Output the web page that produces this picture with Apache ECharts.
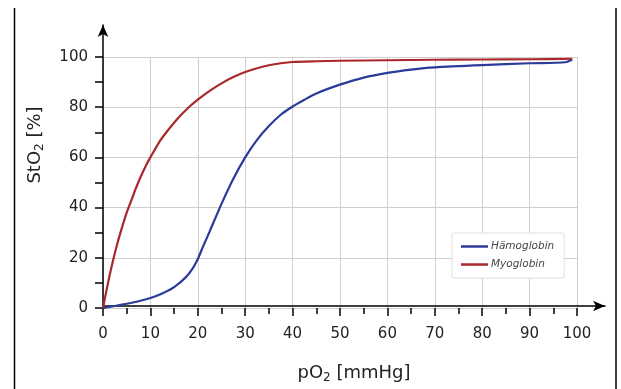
<!DOCTYPE html>
<html>
<head>
<meta charset="utf-8">
<script src="https://cdn.jsdelivr.net/npm/echarts@6/dist/echarts.min.js"></script>
<style>
html,body{margin:0;padding:0;background:#fff;}
#c{width:621px;height:389px;}
</style>
</head>
<body>
<div id="c"></div>
<script>
// Data
var xTicks = [0, 10, 20, 30, 40, 50, 60, 70, 80, 90, 100];
var yTicks = [0, 20, 40, 60, 80, 100];

var hbX = [0, 2.5, 5, 7.5, 10, 12.5, 15, 17.5, 19, 20, 21, 22.5, 25, 27.5, 30, 32.5, 35, 37.5, 40, 42.5, 45, 50, 55, 60, 65, 70, 80, 90, 97.5, 99];
var hbY = [0, 0.8, 1.7, 2.7, 4, 5.8, 8.3, 12.3, 16, 19.5, 24, 30.5, 41.5, 51.5, 60, 67, 72.5, 77, 80.3, 83, 85.5, 89, 91.8, 93.7, 95, 95.9, 96.8, 97.5, 97.9, 99];

var mbX = [0, 1, 2, 3, 4, 5, 6, 7, 8, 9, 10, 12, 14, 16, 18, 20, 22.5, 25, 27.5, 30, 32.5, 35, 37.5, 40, 45, 50, 60, 70, 80, 90, 99];
var mbY = [0, 9.5, 18, 25.5, 32, 38, 43, 48, 52.5, 56.5, 60, 66.5, 71.5, 76, 79.8, 83, 86.5, 89.5, 92, 94, 95.5, 96.7, 97.5, 98, 98.3, 98.5, 98.7, 98.9, 99, 99.1, 99.3];

var seriesNames = ['Hämoglobin', 'Myoglobin'];

function pairs(xs, ys) { return xs.map(function (x, i) { return [x, ys[i]]; }); }

var FONT = 'DejaVu Sans';
var chart = echarts.init(document.getElementById('c'), null, {renderer: 'canvas'});
chart.setOption({
  backgroundColor: '#fff',
  animation: false,
  textStyle: {fontFamily: FONT},
  grid: [
    {left: 103, right: 44, top: 57, bottom: 81, containLabel: false},
    {left: 103, right: 16, top: 25, bottom: 81, containLabel: false}
  ],
  legend: {
    data: seriesNames,
    orient: 'vertical',
    left: 452, top: 233,
    padding: [8, 10, 8, 9],
    itemWidth: 27, itemHeight: 2.5, itemGap: 7,
    icon: 'rect',
    backgroundColor: '#fff',
    borderColor: '#e0e0e0', borderWidth: 1, borderRadius: 2,
    textStyle: {fontFamily: FONT, fontStyle: 'italic', fontSize: 10.5, color: '#444', padding: [0, 0, 0, -2]}
  },
  xAxis: [
    {
      type: 'value', gridIndex: 0, min: xTicks[0], max: xTicks[xTicks.length - 1], interval: 10,
      axisLine: {show: false},
      axisTick: {show: true, length: 8, lineStyle: {color: '#000', width: 1.5}},
      minorTick: {show: true, splitNumber: 2, length: 6, lineStyle: {color: '#000', width: 1.5}},
      axisLabel: {color: '#222', fontSize: 15, margin: 19, fontFamily: FONT},
      splitLine: {show: true, lineStyle: {color: '#cfcfcf', width: 1}}
    },
    {
      type: 'value', gridIndex: 1, min: 0, max: 100,
      axisLine: {show: true, symbol: ['none', 'arrow'], symbolSize: [8, 12], lineStyle: {color: '#000', width: 1.5}},
      axisTick: {show: false}, axisLabel: {show: false}, splitLine: {show: false},
      name: 'pO{sub|2} [mmHg]', nameLocation: 'middle', nameGap: 57,
      nameTextStyle: {fontFamily: FONT, fontSize: 18, color: '#222',
        rich: {sub: {fontSize: 12, verticalAlign: 'bottom', padding: [9, 0, 0, 0], fontFamily: FONT, color: '#222'}}}
    }
  ],
  yAxis: [
    {
      type: 'value', gridIndex: 0, min: yTicks[0], max: yTicks[yTicks.length - 1], interval: 20,
      axisLine: {show: false},
      axisTick: {show: true, length: 8, lineStyle: {color: '#000', width: 1.5}},
      minorTick: {show: true, splitNumber: 2, length: 8, lineStyle: {color: '#000', width: 1.5}},
      axisLabel: {color: '#222', fontSize: 15, margin: 15, fontFamily: FONT},
      splitLine: {show: true, lineStyle: {color: '#cfcfcf', width: 1}}
    },
    {
      type: 'value', gridIndex: 1, min: 0, max: 100,
      axisLine: {show: true, symbol: ['none', 'arrow'], symbolSize: [8, 12], lineStyle: {color: '#000', width: 1.5}},
      axisTick: {show: false}, axisLabel: {show: false}, splitLine: {show: false}
    }
  ],
  graphic: [
    {type: 'line', shape: {x1: 14.5, y1: 8, x2: 14.5, y2: 389}, style: {stroke: '#000', lineWidth: 1.5}},
    {type: 'line', shape: {x1: 616, y1: 8, x2: 616, y2: 389}, style: {stroke: '#000', lineWidth: 1.5}},
    {type: 'text', x: 35, y: 145, rotation: Math.PI / 2,
      style: {text: 'StO{sub|2} [%]', fill: '#222', font: '18px "DejaVu Sans"', align: 'center', verticalAlign: 'middle',
        rich: {sub: {fontSize: 12, fontFamily: FONT, fill: '#222', verticalAlign: 'bottom', padding: [9, 0, 0, 0]}}}}
  ],
  series: [
    {
      name: seriesNames[0], type: 'line', xAxisIndex: 0, yAxisIndex: 0,
      data: pairs(hbX, hbY), smooth: 0.25, symbol: 'none',
      lineStyle: {color: '#2b3b98', width: 2.2}, itemStyle: {color: '#2b3b98'}, z: 3
    },
    {
      name: seriesNames[1], type: 'line', xAxisIndex: 0, yAxisIndex: 0,
      data: pairs(mbX, mbY), smooth: 0.25, symbol: 'none',
      lineStyle: {color: '#a8282b', width: 2.2}, itemStyle: {color: '#a8282b'}, z: 4
    }
  ]
});
</script>
</body>
</html>
